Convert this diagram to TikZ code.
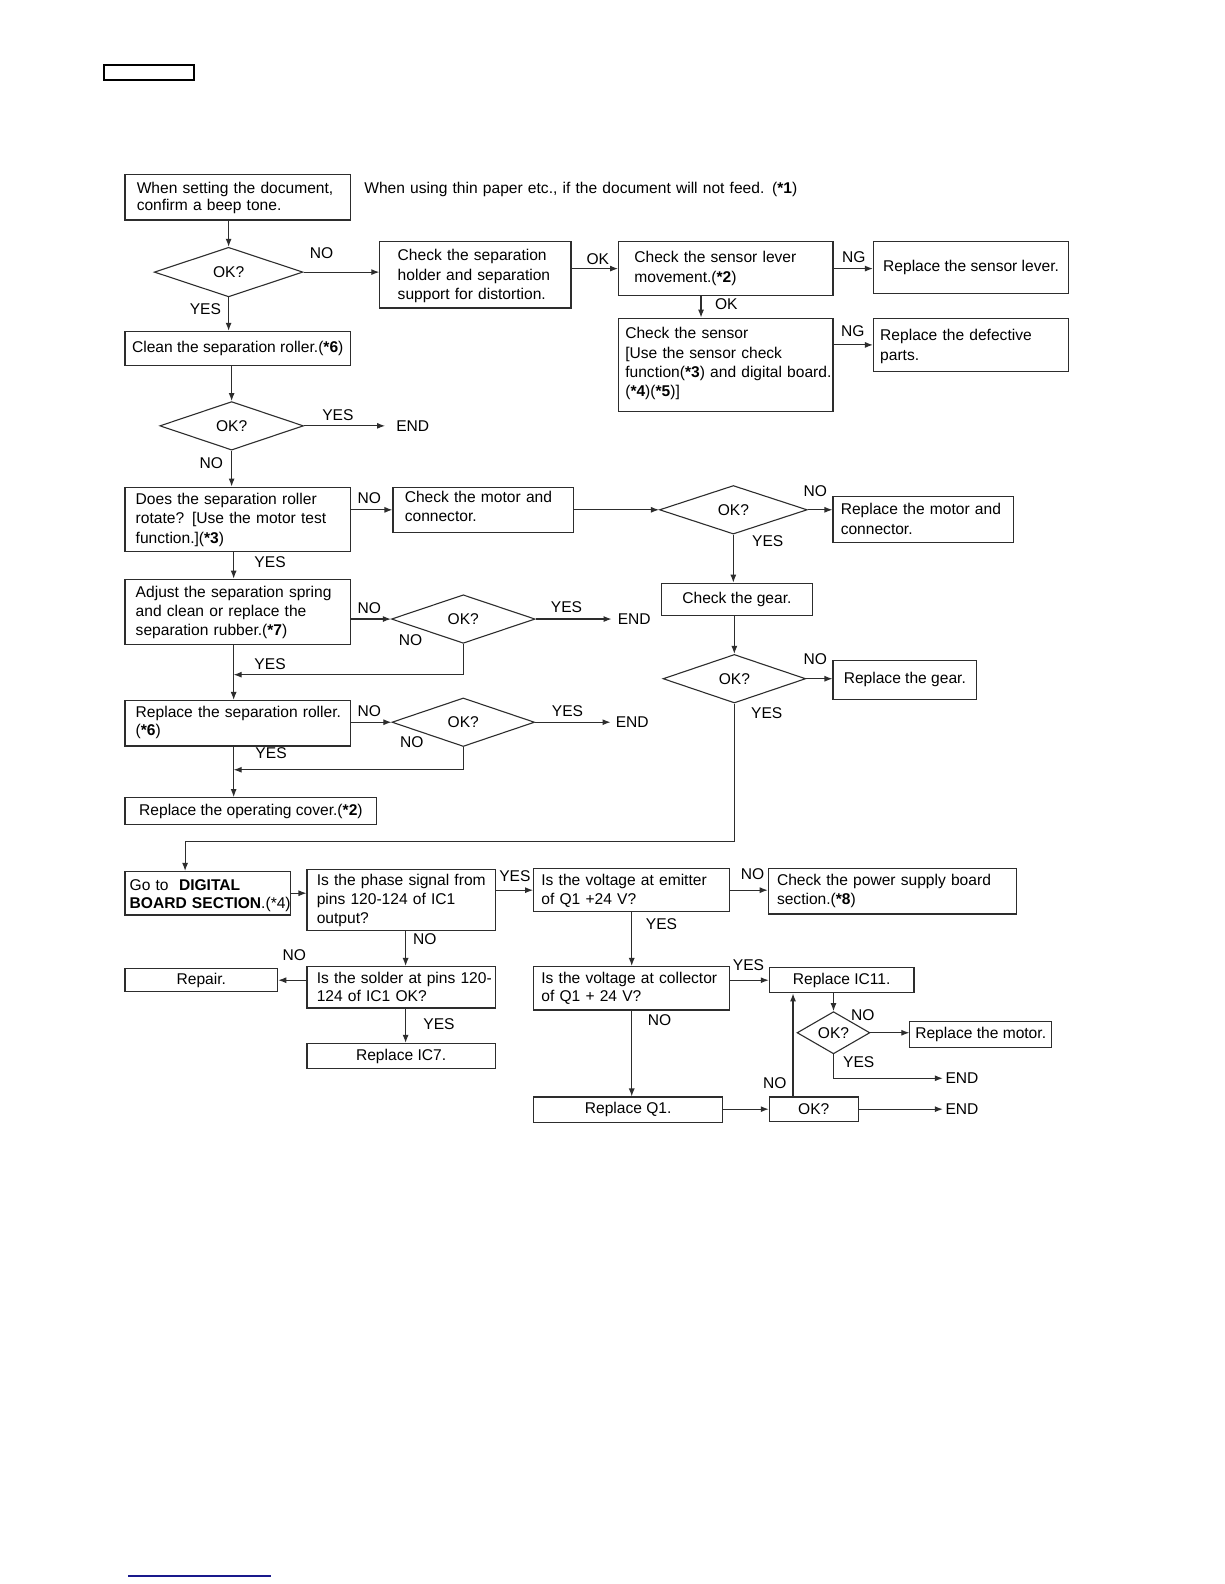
\documentclass[tikz,border=0pt]{standalone}
\usepackage{fontspec}
\setmainfont{Liberation Sans}
\usetikzlibrary{arrows.meta,shapes.geometric,calc}
\definecolor{lnblue}{RGB}{25,25,140}
\definecolor{ln}{RGB}{45,45,45}
\def\sc{1.0115}
\newcommand\fbx[6]{\node[bx,minimum width={(#4-#2)*\sc},minimum height={(#5-#3)*\sc}] (#1) at (#2,#3) {#6};}
\newcommand\lbl[4]{\node[lab] (#1) at (#2,#3) {#4};}
\newcommand\ftx[5][]{\node[txt,#1] (#2) at (#3,#4) {#5};}
\newcommand\fsz[1]{\fontsize{15.58}{#1}\selectfont}
\begin{document}
\begin{tikzpicture}[x=1.0115pt,y=-1.0115pt,
  every node/.style={font=\fsz{19.2}},
  bx/.style={draw=ln, line width=1.1pt, rectangle, inner sep=0pt, anchor=north west},
  dm/.style={draw=ln, line width=1.1pt, diamond, inner sep=0pt},
  txt/.style={anchor=base west, align=left, text width=340pt, inner sep=0pt},
  lab/.style={inner sep=0pt},
  arr/.style={draw=ln, line width=1.1pt, -{Latex[length=8pt,width=6pt]}},
]
\useasboundingbox (0pt,0pt) rectangle (1224pt,-1584pt);
\fill[white] (0pt,0pt) rectangle (1224pt,-1584pt);
% header box and footer line
\draw[line width=1.8pt] (103,64) rectangle (192,79);
\draw[draw=lnblue, line width=1.5pt] (127,1558) -- (268,1558);

% ---------- top section ----------
\fbx{A}{123}{172}{346}{217}{}
\ftx[font=\fsz{17.7}]{At}{135}{191}{When setting the document,\\confirm a beep tone.}
\ftx[text width=540pt]{N1}{360}{191}{When using thin paper etc., if the document will not feed. (\textbf{*1})}
\node[dm, minimum width=147*\sc, minimum height=49*\sc] (D1) at (226,269) {OK?};
\fbx{B}{375}{238}{564}{304}{}
\ftx{Bt}{393}{258}{Check the separation\\holder and separation\\support for distortion.}
\fbx{C}{611}{238}{823}{292}{}
\ftx{Ct}{627}{260}{Check the sensor lever\\movement.(\textbf{*2})}
\fbx{E}{863}{238}{1056}{290}{Replace the sensor lever.}
\fbx{F}{611}{314}{823}{406}{}
\ftx{Ft}{618}{335}{Check the sensor\\{}[Use the sensor check\\function(\textbf{*3}) and digital board.\\(\textbf{*4})(\textbf{*5})]}
\fbx{G}{863}{314}{1056}{367}{}
\ftx{Gt}{870}{337}{Replace the defective\\parts.}
\fbx{H}{123}{327}{346}{361}{Clean the separation roller.(\textbf{*6})}
\node[dm, minimum width=142*\sc, minimum height=48*\sc] (D2) at (229,421) {OK?};
\lbl{e1}{408}{421}{END}

\lbl{l1}{318}{250}{NO}
\lbl{l2}{591}{256}{OK}
\lbl{l3}{844}{254}{NG}
\lbl{l4}{718}{301}{OK}
\lbl{l5}{843}{327}{NG}
\lbl{l6}{203}{306}{YES}
\lbl{l7}{334}{410}{YES}
\lbl{l8}{209}{458}{NO}

\draw[arr] (A.south -| D1.north) -- (D1.north);
\draw[arr] (D1.east) -- (D1.east -| B.west);
\draw[arr] (C.west -| B.east) -- (C.west);
\draw[arr] (C.east) -- (C.east -| E.west);
\draw[arr] ([xshift=83pt]C.south west) -- ([xshift=83pt]F.north west);
\draw[arr] ([yshift=-27.3pt]F.north east) -- ([yshift=-27.3pt]F.north east -| G.west);
\draw[arr] (D1.south) -- (D1.south |- H.north);
\draw[arr] (D2.north |- H.south) -- (D2.north);
\draw[arr, shorten >=11pt] (D2.east) -- (D2.east -| e1.west);

% ---------- middle section ----------
\coordinate (cx) at (231,0);
\fbx{I}{123}{481}{346}{545}{}
\ftx{It}{134}{499}{Does the separation roller\\rotate? [Use the motor test\\function.](\textbf{*3})}
\fbx{J}{388}{481}{566}{526}{}
\ftx{Jt}{400}{497}{Check the motor and\\connector.}
\node[dm, minimum width=146*\sc, minimum height=48*\sc] (D3) at (725,504) {OK?};
\fbx{K}{823}{490}{1001}{536}{}
\ftx{Kt}{831}{509}{Replace the motor and\\connector.}
\fbx{L}{653}{576}{803}{608}{Check the gear.}
\node[dm, minimum width=141*\sc, minimum height=48*\sc] (D4) at (726,671) {OK?};
\fbx{M}{823}{652}{965}{691}{Replace the gear.}
\fbx{O}{123}{572}{346}{637}{}
\ftx[font=\fsz{18.7}]{Ot}{134}{591}{Adjust the separation spring\\and clean or replace the\\separation rubber.(\textbf{*7})}
\node[dm, minimum width=142*\sc, minimum height=48*\sc] (D5) at (458,612) {OK?};
\lbl{e2}{627}{612}{END}
\fbx{P}{123}{692}{346}{737}{}
\ftx[font=\fsz{18.2}]{Pt}{134}{709}{Replace the separation roller.\\(\textbf{*6})}
\node[dm, minimum width=141*\sc, minimum height=48*\sc] (D6) at (458,714) {OK?};
\lbl{e3}{625}{714}{END}
\fbx{Q}{123}{788}{372}{815}{Replace the operating cover.(\textbf{*2})}

\lbl{m1}{365}{492}{NO}
\lbl{m2}{806}{486}{NO}
\lbl{m3}{759}{535}{YES}
\lbl{m4}{806}{652}{NO}
\lbl{m5}{758}{705}{YES}
\lbl{m6}{267}{556}{YES}
\lbl{m7}{365}{601}{NO}
\lbl{m8}{560}{600}{YES}
\lbl{m9}{406}{633}{NO}
\lbl{m10}{267}{657}{YES}
\lbl{m11}{365}{703}{NO}
\lbl{m12}{561}{703}{YES}
\lbl{m13}{407}{734}{NO}
\lbl{m14}{268}{745}{YES}

\draw[arr] (D2.south) -- (D2.south |- I.north);
\draw[arr] (I.east |- J.west) -- (J.west);
\draw[arr] (J.east |- D3.west) -- (D3.west);
\draw[arr] (D3.east) -- (D3.east -| K.west);
\draw[arr] (D3.south) -- (D3.south |- L.north);
\draw[arr] (D4.north |- L.south) -- (D4.north);
\draw[arr] (D4.east) -- (D4.east -| M.west);
\draw[arr] (I.south -| cx) -- (O.north -| cx);
\draw[arr] (D5.west -| O.east) -- (D5.west);
\draw[arr, shorten >=6pt] (D5.east) -- (D5.east -| e2.west);
\coordinate (r1) at (231,667);
\draw[arr] (D5.south) |- (r1);
\draw[arr] (O.south -| cx) -- (P.north -| cx);
\draw[arr] (D6.west -| P.east) -- (D6.west);
\draw[arr, shorten >=5pt] (D6.east) -- (D6.east -| e3.west);
\coordinate (r2) at (231,761);
\draw[arr] (D6.south) |- (r2);
\draw[arr] (P.south -| cx) -- (Q.north -| cx);

% ---------- bottom section ----------
\fbx{N}{123}{861}{287}{904}{}
\ftx[font=\fsz{18.2}]{Nt}{128}{880}{Go to \ \textbf{DIGITAL}\\\textbf{BOARD SECTION}.(*4)}
\coordinate (t1) at (726,832);
\draw[arr] (D4.south) -- (t1) -| ([xshift=60.7pt]N.north west);
\fbx{R}{303}{859}{489}{919}{}
\ftx{Rt}{313}{875}{Is the phase signal from\\pins 120-124 of IC1\\output?}
\fbx{S}{527}{858}{721}{901}{}
\ftx{St}{535}{875}{Is the voltage at emitter\\of Q1 +24 V?}
\fbx{T}{759}{858}{1004}{903}{}
\ftx{Tt}{768}{875}{Check the power supply board\\section.(\textbf{*8})}
\fbx{U}{303}{955}{489}{996}{}
\ftx[font=\fsz{18.7}]{Ut}{313}{972}{Is the solder at pins 120-\\124 of IC1 OK?}
\fbx{V}{123}{957}{274}{980}{Repair.}
\fbx{W}{303}{1031}{489}{1056}{Replace IC7.}
\fbx{X}{527}{955}{721}{998}{}
\ftx[font=\fsz{18.7}]{Xt}{535}{972}{Is the voltage at collector\\of Q1 + 24 V?}
\fbx{Y}{760}{956}{903}{981}{Replace IC11.}
\fbx{Z}{527}{1084}{714}{1109}{Replace Q1.}
\fbx{AA}{760}{1084}{848}{1108}{OK?}
\node[dm, minimum width=72*\sc, minimum height=26*\sc] (D7) at (824,1021) {OK?};
\fbx{BB}{899}{1009}{1039}{1035}{Replace the motor.}
\lbl{e4}{951}{1066}{END}
\lbl{e5}{951}{1097}{END}

\lbl{b1}{509}{866}{YES}
\lbl{b2}{744}{864}{NO}
\lbl{b3}{420}{928}{NO}
\lbl{b4}{291}{944}{NO}
\lbl{b5}{434}{1012}{YES}
\lbl{b6}{654}{914}{YES}
\lbl{b7}{740}{954}{YES}
\lbl{b8}{652}{1009}{NO}
\lbl{b9}{766}{1071}{NO}
\lbl{b10}{853}{1004}{NO}
\lbl{b11}{849}{1050}{YES}

\coordinate (rx) at (401,0);
\coordinate (ax) at (784,0);
\draw[arr] (N.east) -- (N.east -| R.west);
\draw[arr] (S.west -| R.east) -- (S.west);
\draw[arr] (S.east) -- (S.east -| T.west);
\draw[arr] (R.south -| rx) -- (U.north -| rx);
\draw[arr] (U.west |- V.east) -- (V.east);
\draw[arr] (U.south -| rx) -- (W.north -| rx);
\draw[arr] (S.south) -- (S.south |- X.north);
\draw[arr] (X.east |- Y.west) -- (Y.west);
\draw[arr] (X.south) -- (X.south |- Z.north);
\draw[arr] (Z.east |- AA.west) -- (AA.west);
\draw[arr, shorten >=2.5pt] (AA.east) -- (AA.east -| e5.west);
\draw[arr] (AA.north -| ax) -- (Y.south -| ax);
\draw[arr] (Y.south -| D7.north) -- (D7.north);
\draw[arr] (D7.east) -- (D7.east -| BB.west);
\draw[arr, shorten >=2.5pt] (D7.south) |- (e4.west);
\end{tikzpicture}
\end{document}
